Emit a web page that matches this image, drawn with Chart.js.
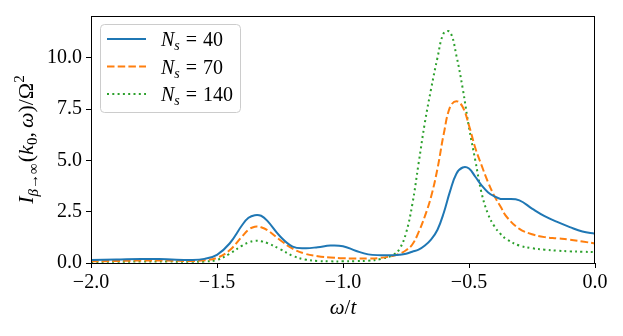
<!DOCTYPE html>
<html>
<head>
<meta charset="utf-8">
<script src="https://cdn.jsdelivr.net/npm/chart.js@4.4.1/dist/chart.umd.min.js"></script>
<style>
  html, body { margin: 0; padding: 0; background: #fff; }
</style>
</head>
<body>
<canvas id="grafico" width="623" height="336"></canvas>
<script>
// valores
const omega = [-2.0, -1.9, -1.8, -1.7, -1.6, -1.55, -1.5, -1.45, -1.4, -1.375, -1.35, -1.325, -1.3, -1.25, -1.2, -1.15, -1.1, -1.05, -1.0, -0.95, -0.9, -0.85, -0.8, -0.775, -0.75, -0.725, -0.7, -0.675, -0.65, -0.625, -0.6, -0.575, -0.55, -0.525, -0.5, -0.475, -0.45, -0.425, -0.4, -0.375, -0.35, -0.3, -0.25, -0.2, -0.15, -0.1, -0.05, 0.0];
const ns40  = [0.15, 0.17, 0.2, 0.18, 0.15, 0.2, 0.4, 0.95, 1.85, 2.2, 2.33, 2.3, 2.05, 1.3, 0.8, 0.72, 0.77, 0.85, 0.82, 0.6, 0.42, 0.38, 0.38, 0.4, 0.45, 0.55, 0.65, 0.85, 1.15, 1.62, 2.45, 3.5, 4.35, 4.65, 4.6, 4.2, 3.78, 3.45, 3.25, 3.12, 3.12, 3.05, 2.65, 2.28, 2.0, 1.75, 1.53, 1.43];
const ns70  = [0.08, 0.1, 0.12, 0.12, 0.1, 0.13, 0.25, 0.62, 1.3, 1.62, 1.77, 1.74, 1.6, 1.12, 0.7, 0.45, 0.33, 0.27, 0.23, 0.22, 0.22, 0.25, 0.35, 0.45, 0.62, 0.9, 1.5, 2.28, 3.25, 4.6, 6.3, 7.6, 7.88, 7.6, 6.7, 5.6, 4.75, 3.95, 3.28, 2.75, 2.24, 1.66, 1.4, 1.26, 1.2, 1.14, 1.05, 0.95];
const ns140 = [0.05, 0.06, 0.07, 0.07, 0.06, 0.07, 0.15, 0.45, 0.85, 1.0, 1.08, 1.06, 0.97, 0.68, 0.35, 0.17, 0.1, 0.08, 0.08, 0.09, 0.11, 0.2, 0.4, 0.7, 1.45, 2.85, 4.85, 6.85, 8.5, 10.0, 11.2, 11.25, 10.1, 8.5, 6.6, 5.0, 3.4, 2.4, 1.8, 1.42, 1.15, 0.85, 0.72, 0.65, 0.6, 0.57, 0.55, 0.53];

const rotulosNs = ['40', '70', '140'];
const xTicks = [-2.0, -1.5, -1.0, -0.5, 0.0];
const yTicks = [0, 2.5, 5.0, 7.5, 10.0];

const cores = ['#1f77b4', '#ff7f0e', '#2ca02c'];
const tracos = [[], [7.5, 3.2], [2, 3.3]];
const fonteSerif = "'Liberation Serif', 'DejaVu Serif', serif";

function pontos(ys) {
    return omega.map((x, i) => ({ x: x, y: ys[i] }));
}

function fmt(v) {
    return v.toFixed(1).replace('-', '\u2212');
}

// desenha texto "matemático" em pedaços (itálico, índices)
function larguraMath(ctx, partes) {
    let w = 0;
    partes.forEach(p => {
        ctx.font = (p.it ? 'italic ' : '') + p.s + 'px ' + fonteSerif;
        w += ctx.measureText(p.t).width + (p.gap || 0);
    });
    return w;
}
function desenharMath(ctx, partes, x, y) {
    let cx = x;
    partes.forEach(p => {
        ctx.font = (p.it ? 'italic ' : '') + p.s + 'px ' + fonteSerif;
        ctx.fillText(p.t, cx, y + (p.dy || 0));
        cx += ctx.measureText(p.t).width + (p.gap || 0);
    });
}

const moldura = {
    id: 'moldura',
    afterDraw(chart) {
        const { ctx, chartArea: a } = chart;
        ctx.save();
        ctx.fillStyle = '#000';
        ctx.textBaseline = 'alphabetic';
        ctx.textAlign = 'left';

        // caixa completa dos eixos
        ctx.strokeStyle = '#000';
        ctx.lineWidth = 1;
        ctx.strokeRect(a.left + 0.5, a.top + 0.5, a.right - a.left - 1, a.bottom - a.top);

        // rótulo do eixo x
        const labX = [
            { t: '\u03c9', it: true, s: 21 },
            { t: '/', s: 21 },
            { t: 't', it: true, s: 21 }
        ];
        const wx = larguraMath(ctx, labX);
        desenharMath(ctx, labX, (a.left + a.right) / 2 - wx / 2, 314);

        // rótulo do eixo y (rodado)
        const labY = [
            { t: 'I', it: true, s: 22 },
            { t: '\u03b2', it: true, s: 15, dy: 5 },
            { t: '\u2192\u221e', s: 15, dy: 5, gap: 1 },
            { t: '(', s: 22 },
            { t: 'k', it: true, s: 22 },
            { t: '0', s: 15, dy: 4 },
            { t: ',', s: 22, gap: 4 },
            { t: '\u03c9', it: true, s: 22 },
            { t: ')', s: 22 },
            { t: '/\u03a9', s: 22 },
            { t: '2', s: 15, dy: -9 }
        ];
        const wy = larguraMath(ctx, labY);
        ctx.save();
        ctx.translate(33, (a.top + a.bottom) / 2);
        ctx.rotate(-Math.PI / 2);
        desenharMath(ctx, labY, -wy / 2, 0);
        ctx.restore();

        // legenda
        const lx = 100, ly = 24, lw = 140, lh = 88;
        ctx.beginPath();
        ctx.roundRect(lx + 0.5, ly + 0.5, lw, lh, 4);
        ctx.fillStyle = 'rgba(255,255,255,0.8)';
        ctx.fill();
        ctx.strokeStyle = '#cccccc';
        ctx.lineWidth = 1;
        ctx.stroke();
        rotulosNs.forEach((n, i) => {
            const yy = 39 + i * 27.5;
            ctx.beginPath();
            ctx.setLineDash(tracos[i]);
            ctx.strokeStyle = cores[i];
            ctx.lineWidth = 2;
            ctx.moveTo(107, yy);
            ctx.lineTo(146, yy);
            ctx.stroke();
            ctx.setLineDash([]);
            ctx.fillStyle = '#000';
            desenharMath(ctx, [
                { t: 'N', it: true, s: 20 },
                { t: 's', it: true, s: 14, dy: 4, gap: 6 },
                { t: '=', s: 20, gap: 6 },
                { t: n, s: 20 }
            ], 161, yy + 7);
        });
        ctx.restore();
    }
};

const ctx = document.getElementById('grafico').getContext('2d');
const grafico = new Chart(ctx, {
    type: 'line',
    data: {
        datasets: [ns40, ns70, ns140].map((ys, i) => ({
            label: 'N_s = ' + rotulosNs[i],
            data: pontos(ys),
            borderColor: cores[i],
            borderWidth: 2,
            borderDash: tracos[i],
            pointRadius: 0,
            fill: false,
            tension: 0.4
        }))
    },
    options: {
        responsive: false,
        animation: false,
        layout: { padding: { top: 14, right: 28, left: 0, bottom: 0 } },
        plugins: { legend: { display: false }, tooltip: { enabled: false } },
        scales: {
            x: {
                type: 'linear',
                min: -2.0, max: 0.0,
                afterBuildTicks: s => { s.ticks = xTicks.map(v => ({ value: v })); },
                afterFit: s => { s.height = 73; },
                border: { display: false },
                grid: { drawOnChartArea: false, drawTicks: true, tickLength: 5, color: '#000', lineWidth: 1 },
                ticks: {
                    color: '#000', padding: 3, maxRotation: 0,
                    font: { family: fonteSerif, size: 20 },
                    callback: v => fmt(v)
                }
            },
            y: {
                min: 0, max: 12.03,
                afterBuildTicks: s => { s.ticks = yTicks.map(v => ({ value: v })); },
                afterFit: s => { s.width = 91; },
                border: { display: false },
                grid: { drawOnChartArea: false, drawTicks: true, tickLength: 5, color: '#000', lineWidth: 1 },
                ticks: {
                    color: '#000', padding: 4,
                    font: { family: fonteSerif, size: 20 },
                    callback: v => fmt(v)
                }
            }
        }
    },
    plugins: [moldura]
});
</script>
</body>
</html>
